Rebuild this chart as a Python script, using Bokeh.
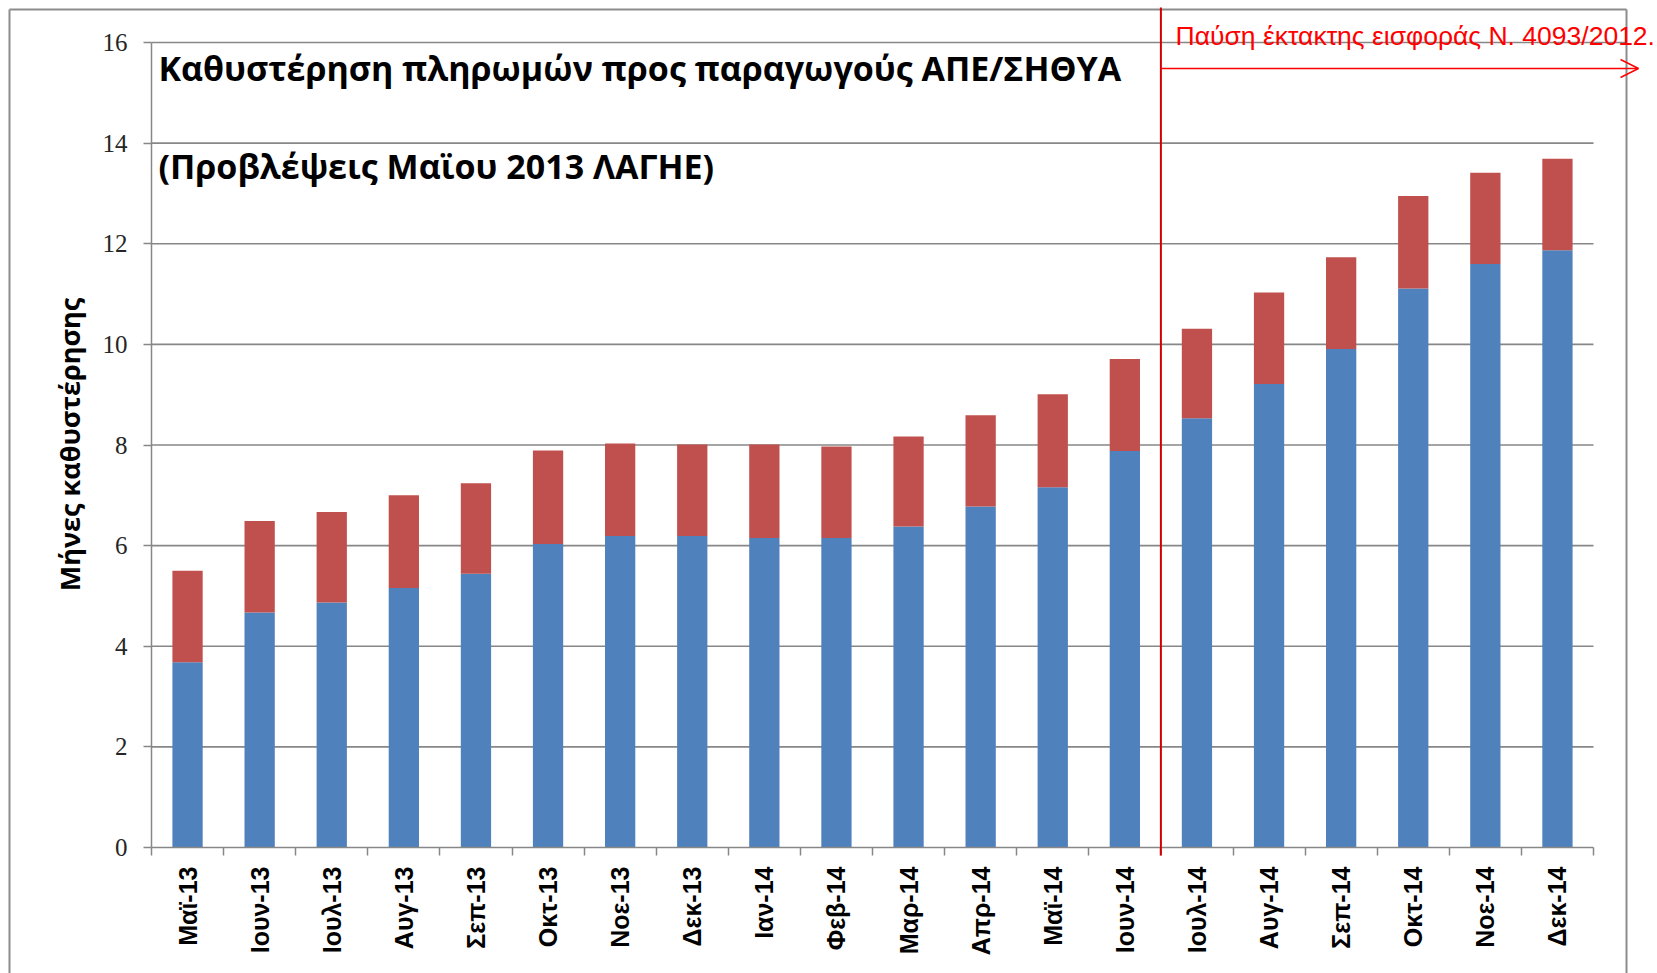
import math
from bokeh.plotting import figure
from bokeh.models import (Range1d, FixedTicker, Label, Arrow, OpenHead,
                          ColumnDataSource)
from bokeh.embed import file_html
from bokeh.resources import INLINE

# ---------------- data ----------------
categories = ["Μαϊ-13", "Ιουν-13", "Ιουλ-13", "Αυγ-13", "Σεπ-13", "Οκτ-13",
              "Νοε-13", "Δεκ-13", "Ιαν-14", "Φεβ-14", "Μαρ-14", "Απρ-14",
              "Μαϊ-14", "Ιουν-14", "Ιουλ-14", "Αυγ-14", "Σεπ-14", "Οκτ-14",
              "Νοε-14", "Δεκ-14"]
base_delay = [3.68, 4.67, 4.87, 5.16, 5.44, 6.03, 6.19, 6.19, 6.15, 6.15,
              6.38, 6.78, 7.16, 7.88, 8.53, 9.21, 9.91, 11.11, 11.60, 11.87]
extra_delay = [1.82, 1.82, 1.80, 1.84, 1.80, 1.86, 1.84, 1.82, 1.86, 1.82,
               1.79, 1.81, 1.85, 1.83, 1.78, 1.82, 1.82, 1.84, 1.81, 1.82]
y_ticks = [0, 2, 4, 6, 8, 10, 12, 14, 16]
pause_after = "Ιουν-14"

title_line1 = "Καθυστέρηση  πληρωμών προς παραγωγούς ΑΠΕ/ΣΗΘΥΑ"
title_line2 = "(Προβλέψεις Μαϊου  2013 ΛΑΓΗΕ)"
y_label = "Μήνες καθυστέρησης"
note_text = "Παύση έκτακτης εισφοράς Ν. 4093/2012."

# ---------------- layout (page pixels) ----------------
W, H = 1657, 973
AXIS_X, AXIS_END_X, ZERO_Y, TOP_Y = 151, 1593, 847, 42
n = len(categories)
cat_px = (AXIS_END_X - AXIS_X) / n
unit_px = (ZERO_Y - TOP_Y) / y_ticks[-1]


def xd(px):
    return -0.5 + (px - AXIS_X) / cat_px


def yd(py):
    return (ZERO_Y - py) / unit_px


GRID = "#878787"
BORDER = "#8c8c8c"
BLUE = "#4F81BD"
RED = "#C0504D"

p = figure(width=W, height=H, title=None,
           x_range=Range1d(xd(0), xd(W)), y_range=Range1d(yd(H), yd(0)),
           output_backend="svg", toolbar_location=None,
           min_border_left=0, min_border_right=0,
           min_border_top=0, min_border_bottom=0)
p.outline_line_color = None
p.background_fill_color = "white"
p.border_fill_color = "white"
p.grid.visible = False

# outer chart border
p.segment(x0=[xd(9), xd(9), xd(1626)], x1=[xd(9), xd(1626), xd(1626)],
          y0=[yd(1000), yd(9), yd(9)], y1=[yd(9), yd(9), yd(1000)],
          line_color=BORDER, line_width=2)

# grid lines
grid_vals = y_ticks[1:]
x1s = [n - 0.5 if v < y_ticks[-1] else xd(1626) for v in grid_vals]
p.segment(x0=[-0.5] * len(grid_vals), x1=x1s, y0=grid_vals, y1=grid_vals,
          line_color=GRID, line_width=1.6)

# bars
src = ColumnDataSource(dict(x=list(range(n)), base=base_delay, extra=extra_delay))
p.vbar_stack(["base", "extra"], x="x", width=0.42, color=[BLUE, RED],
             line_color=None, source=src)

# y axis (drawn at the category start)
ya = p.yaxis[0]
ya.fixed_location = -0.5
ya.ticker = FixedTicker(ticks=y_ticks, minor_ticks=[])
ya.bounds = (0, y_ticks[-1])
ya.axis_line_color = GRID
ya.axis_line_width = 1.5
ya.major_tick_line_color = GRID
ya.major_tick_line_width = 1.5
ya.major_tick_out = 8
ya.major_tick_in = 0
ya.minor_tick_line_color = None
ya.major_label_text_font = "Liberation Sans Narrow"
ya.major_label_text_font_size = "25px"
ya.major_label_text_color = "#262626"
ya.major_label_standoff = 16

# x axis (drawn at zero)
xa = p.xaxis[0]
xa.fixed_location = 0
xa.ticker = FixedTicker(ticks=list(range(n)),
                        minor_ticks=[i - 0.5 for i in range(n + 1)])
xa.major_label_overrides = {i: c for i, c in enumerate(categories)}
xa.bounds = (-0.5, n - 0.5)
xa.axis_line_color = GRID
xa.axis_line_width = 1.5
xa.major_tick_line_color = None
xa.major_tick_out = 8
xa.major_tick_in = 0
xa.minor_tick_line_color = GRID
xa.minor_tick_line_width = 1.5
xa.minor_tick_out = 8
xa.minor_tick_in = 0
xa.major_label_orientation = math.pi / 2
xa.major_label_text_font = "Liberation Sans"
xa.major_label_text_font_style = "bold"
xa.major_label_text_font_size = "25px"
xa.major_label_text_color = "black"
xa.major_label_standoff = 11

# y axis title
p.add_layout(Label(x=xd(69), y=yd(444), text=y_label, angle=math.pi / 2,
                   text_font="Open Sans", text_font_style="bold",
                   text_font_size="27px", text_color="black",
                   text_align="center", text_baseline="middle"))

# titles
p.add_layout(Label(x=xd(158), y=yd(67), text=title_line1, text_font="Open Sans",
                   text_font_style="bold", text_font_size="34px",
                   text_color="black", text_baseline="middle"))
p.add_layout(Label(x=xd(158), y=yd(165), text=title_line2, text_font="Open Sans",
                   text_font_style="bold", text_font_size="34px",
                   text_color="black", text_baseline="middle"))

# pause marker
pause_x = categories.index(pause_after) + 0.5
p.add_layout(Arrow(end=None, x_start=pause_x, y_start=yd(855), x_end=pause_x,
                   y_end=yd(7), line_color="#D40000", line_width=2))
p.add_layout(Arrow(end=OpenHead(size=18, line_color="#FF0000", line_width=1.5),
                   x_start=pause_x, y_start=yd(68), x_end=xd(1638), y_end=yd(68),
                   line_color="#FF0000", line_width=1.5))
p.add_layout(Label(x=xd(1175), y=yd(35), text=note_text, text_font="Liberation Sans",
                   text_font_size="26.5px", text_color="#FF0000",
                   text_baseline="middle"))

open("out.html", "w").write(file_html(p, INLINE))
